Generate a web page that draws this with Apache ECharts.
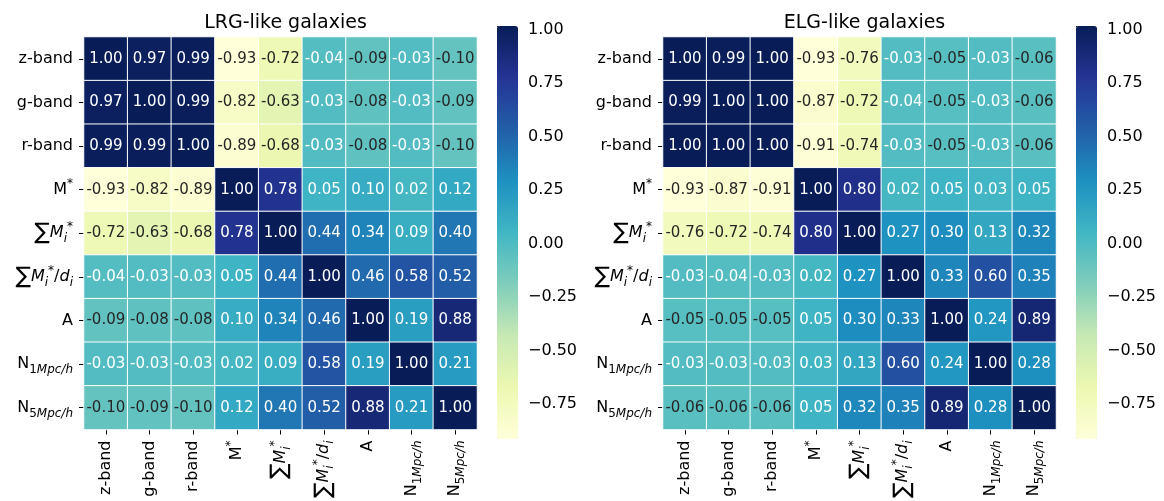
<!DOCTYPE html>
<html>
<head>
<meta charset="utf-8">
<script src="https://cdn.jsdelivr.net/npm/echarts@6/dist/echarts.min.js"></script>
<style>
html,body{margin:0;padding:0;background:#fff;}
#chart{width:1164px;height:501px;}
</style>
</head>
<body>
<div id="chart"></div>
<script>
// ---- data ----
const categories = ['z-band','g-band','r-band','M*','∑Mi*','∑Mi*/di','A','N1Mpc/h','N5Mpc/h'];
const titles = ['LRG-like galaxies','ELG-like galaxies'];
const lrgMatrix = [
  [ 1.00, 0.97, 0.99,-0.93,-0.72,-0.04,-0.09,-0.03,-0.10],
  [ 0.97, 1.00, 0.99,-0.82,-0.63,-0.03,-0.08,-0.03,-0.09],
  [ 0.99, 0.99, 1.00,-0.89,-0.68,-0.03,-0.08,-0.03,-0.10],
  [-0.93,-0.82,-0.89, 1.00, 0.78, 0.05, 0.10, 0.02, 0.12],
  [-0.72,-0.63,-0.68, 0.78, 1.00, 0.44, 0.34, 0.09, 0.40],
  [-0.04,-0.03,-0.03, 0.05, 0.44, 1.00, 0.46, 0.58, 0.52],
  [-0.09,-0.08,-0.08, 0.10, 0.34, 0.46, 1.00, 0.19, 0.88],
  [-0.03,-0.03,-0.03, 0.02, 0.09, 0.58, 0.19, 1.00, 0.21],
  [-0.10,-0.09,-0.10, 0.12, 0.40, 0.52, 0.88, 0.21, 1.00]
];
const elgMatrix = [
  [ 1.00, 0.99, 1.00,-0.93,-0.76,-0.03,-0.05,-0.03,-0.06],
  [ 0.99, 1.00, 1.00,-0.87,-0.72,-0.04,-0.05,-0.03,-0.06],
  [ 1.00, 1.00, 1.00,-0.91,-0.74,-0.03,-0.05,-0.03,-0.06],
  [-0.93,-0.87,-0.91, 1.00, 0.80, 0.02, 0.05, 0.03, 0.05],
  [-0.76,-0.72,-0.74, 0.80, 1.00, 0.27, 0.30, 0.13, 0.32],
  [-0.03,-0.04,-0.03, 0.02, 0.27, 1.00, 0.33, 0.60, 0.35],
  [-0.05,-0.05,-0.05, 0.05, 0.30, 0.33, 1.00, 0.24, 0.89],
  [-0.03,-0.03,-0.03, 0.03, 0.13, 0.60, 0.24, 1.00, 0.28],
  [-0.06,-0.06,-0.06, 0.05, 0.32, 0.35, 0.89, 0.28, 1.00]
];
const colorMin = -0.93;
const colorMax = 1.00;
const colorbarTicks = [-0.75,-0.5,-0.25,0,0.25,0.5,0.75,1.0];
const ylgnbu = ['#ffffd9','#edf8b1','#c7e9b4','#7fcdbb','#41b6c4','#1d91c0','#225ea8','#253494','#081d58'];

// ---- label formatting ----
const FONT = 'DejaVu Sans';
const richLabel = {
  'M*': '{r|M}{sup|*}',
  '∑Mi*': '{sum|∑}{it|M}{subit|i}{sup|*}',
  '∑Mi*/di': '{sum|∑}{it|M}{subit|i}{sup|*}{r|/}{it|d}{subit|i}',
  'N1Mpc/h': '{r|N}{sub|1}{subit|Mpc/h}',
  'N5Mpc/h': '{r|N}{sub|5}{subit|Mpc/h}'
};
function fmtCat(v){ return richLabel[v] || ('{r|' + v + '}'); }
const rich = {
  r:{fontFamily:FONT,fontSize:16,color:'#000',lineHeight:24,verticalAlign:'middle'},
  it:{fontFamily:FONT,fontSize:16,fontStyle:'italic',color:'#000',lineHeight:24,verticalAlign:'middle'},
  sum:{fontFamily:FONT,fontSize:23,color:'#000',lineHeight:24,verticalAlign:'middle'},
  sup:{fontFamily:FONT,fontSize:12,color:'#000',lineHeight:12,verticalAlign:'top'},
  sub:{fontFamily:FONT,fontSize:12,color:'#000',lineHeight:10,verticalAlign:'bottom'},
  subit:{fontFamily:FONT,fontSize:12,fontStyle:'italic',color:'#000',lineHeight:10,verticalAlign:'bottom'}
};
const cbRich = {
  v:{fontFamily:FONT,fontSize:16,color:'#000',lineHeight:18,padding:[7,0,0,0]}
};

function cells(m){
  const out = [];
  for (let r = 0; r < m.length; r++) {
    for (let c = 0; c < m[r].length; c++) {
      const v = m[r][c];
      out.push({value:[c, r, v], label:{color: v > -0.045 ? '#ffffff' : '#262626'}});
    }
  }
  return out;
}

const panels = [
  {left:84, cbLeft:497, matrix:lrgMatrix, title:titles[0]},
  {left:663, cbLeft:1076, matrix:elgMatrix, title:titles[1]}
];
const TOP = 37, SIZE = 393, CB_TOP = 26, CB_H = 413, CB_W = 21;

const option = {
  animation:false,
  backgroundColor:'#fff',
  title: panels.map(p => ({
    text:p.title, left:p.left + SIZE/2, top:9, textAlign:'center',
    textStyle:{fontFamily:FONT,fontSize:19,fontWeight:'normal',color:'#000'}
  })),
  grid: [],
  xAxis: [],
  yAxis: [],
  visualMap: [],
  series: []
};

panels.forEach((p, k) => {
  option.grid.push({left:p.left, top:TOP, width:SIZE, height:SIZE, containLabel:false});
  option.grid.push({left:p.cbLeft, top:CB_TOP, width:CB_W, height:CB_H, containLabel:false});
  const gi = k*2, ci = k*2+1;
  option.xAxis.push({
    type:'category', gridIndex:gi, data:categories, position:'bottom',
    axisLine:{show:false}, splitLine:{show:false},
    axisTick:{show:true, alignWithLabel:true, length:5, lineStyle:{color:'#000',width:1}},
    axisLabel:{rotate:90, margin:11, formatter:fmtCat, rich:rich, interval:0}
  });
  option.yAxis.push({
    type:'category', gridIndex:gi, data:categories, inverse:true, position:'left',
    axisLine:{show:false}, splitLine:{show:false},
    axisTick:{show:true, alignWithLabel:true, length:5, lineStyle:{color:'#000',width:1}},
    axisLabel:{margin:11, formatter:fmtCat, rich:rich, interval:0, align:'right'}
  });
  option.xAxis.push({type:'value', gridIndex:ci, show:false, min:0, max:1});
  option.yAxis.push({
    type:'value', gridIndex:ci, position:'right', min:colorMin, max:colorMax,
    axisLine:{show:false}, splitLine:{show:false},
    axisTick:{show:true, length:5, lineStyle:{color:'#000',width:1}, customValues:colorbarTicks},
    axisLabel:{margin:10, customValues:colorbarTicks, rich:cbRich,
      formatter: v => '{v|' + (v < 0 ? '\u2212' + Math.abs(v).toFixed(2) : v.toFixed(2)) + '}'}
  });
  option.visualMap.push({
    type:'continuous', seriesIndex:k, min:colorMin, max:colorMax,
    inRange:{color:ylgnbu}, calculable:false, orient:'vertical',
    left:p.cbLeft, top:CB_TOP, itemWidth:CB_W, itemHeight:CB_H, padding:0,
    hoverLink:false, text:null, textStyle:{color:'transparent'}
  });
  option.series.push({
    type:'heatmap', xAxisIndex:gi, yAxisIndex:gi, data:cells(p.matrix),
    itemStyle:{borderColor:'#ffffff', borderWidth:1},
    label:{show:true, fontFamily:FONT, fontSize:15, formatter: d => d.value[2].toFixed(2)},
    emphasis:{disabled:true}
  });
});

const chart = echarts.init(document.getElementById('chart'), null, {renderer:'canvas'});
chart.setOption(option);
</script>
</body>
</html>
